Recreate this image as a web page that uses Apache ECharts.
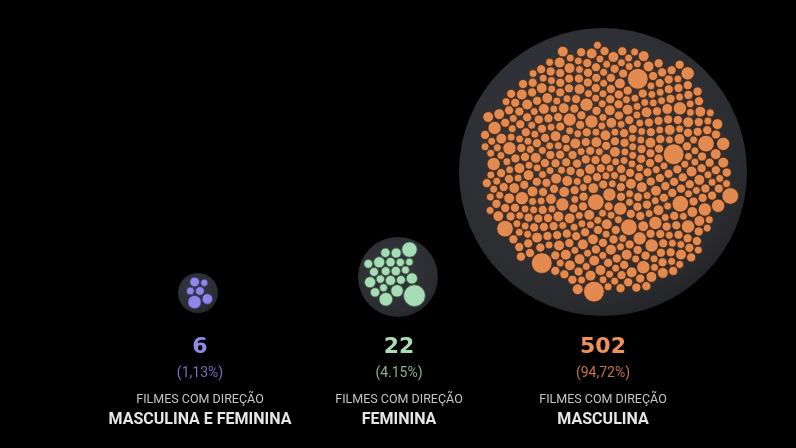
<!DOCTYPE html>
<html>
<head>
<meta charset="utf-8">
<script src="https://cdn.jsdelivr.net/npm/echarts@6/dist/echarts.min.js"></script>
<style>
  html, body { margin: 0; padding: 0; background: #000; }
  #chart { width: 796px; height: 448px; }
</style>
</head>
<body>
<div id="chart"></div>
<script>
// dados
var groupNames = ['MASCULINA E FEMININA', 'FEMININA', 'MASCULINA'];
var filmCounts = [6, 22, 502];
var filmShares = ['(1,13%)', '(4.15%)', '(94,72%)'];
var subtitle = 'FILMES COM DIREÇÃO';

// raio de cada filme
var mixedRadii = [4.2, 4.7, 5.2, 7.2, 3.9, 5.7];
var femaleRadii = [5.3, 5, 5.7, 5.3, 4.7, 5, 6.3, 4.7, 4.5, 6.3, 5, 5.7, 7, 4.5, 5.3, 4.3, 7.7, 6.3, 5, 8.7, 5.3, 12.3];
// filmes de direção masculina: classes de tamanho e quantos filmes em cada uma
var maleSizeClasses = [12.5, 10, 8, 6.5, 5.5, 4.8];
var maleClassCounts = [4, 6, 20, 80, 220, 172];

var colors = ['#8f86ea', '#a6ddb6', '#e28a4f'];
var strokeColors = ['#3b3470', '#3c5a45', '#4a2412'];
var textColors = ['#938ae8', '#a6ddb6', '#ee925a'];

// layout em pixels: centro do grupo, raio do disco, raio do grupo, deslocamento do disco
var layout = [
  { cx: 198, cy: 293, disc: 20, cluster: 17, pad: 0.7, dx: 0, dy: 0, flipX: false, flipY: true },
  { cx: 398, cy: 276, disc: 40, cluster: 37, pad: 0.6, dx: 0, dy: 1, flipX: true, flipY: false },
  { cx: 607, cy: 168, disc: 144, cluster: 135, pad: 0.35, dx: -4, dy: 4, flipX: false, flipY: false }
];
var labelX = [200, 399, 603];

function expand(sizes, counts) {
  var out = [];
  sizes.forEach(function (s, i) {
    for (var k = 0; k < counts[i]; k++) out.push(s);
  });
  // intercala os tamanhos
  var n = out.length, mixed = [];
  for (var k = 0; k < n; k++) mixed.push(out[(k * 97 + 300) % n]);
  return mixed;
}

// empacotamento (front-chain, como no d3.packSiblings)
function place(b, a, c) {
  var dx = b.x - a.x, dy = b.y - a.y, d2 = dx * dx + dy * dy, x, y, a2, b2;
  if (d2) {
    a2 = a.r + c.r; a2 *= a2;
    b2 = b.r + c.r; b2 *= b2;
    if (a2 > b2) {
      x = (d2 + b2 - a2) / (2 * d2);
      y = Math.sqrt(Math.max(0, b2 / d2 - x * x));
      c.x = b.x - x * dx - y * dy;
      c.y = b.y - x * dy + y * dx;
    } else {
      x = (d2 + a2 - b2) / (2 * d2);
      y = Math.sqrt(Math.max(0, a2 / d2 - x * x));
      c.x = a.x + x * dx - y * dy;
      c.y = a.y + x * dy + y * dx;
    }
  } else {
    c.x = a.x + c.r; c.y = a.y;
  }
}
function intersects(a, b) {
  var dr = a.r + b.r - 1e-6, dx = b.x - a.x, dy = b.y - a.y;
  return dr > 0 && dr * dr > dx * dx + dy * dy;
}
function score(node) {
  var a = node._, b = node.next._, ab = a.r + b.r,
    dx = (a.x * b.r + b.x * a.r) / ab, dy = (a.y * b.r + b.y * a.r) / ab;
  return dx * dx + dy * dy;
}
function Node(c) { this._ = c; this.next = null; this.previous = null; }

function reach(circles, x, y) {
  var m = 0;
  circles.forEach(function (p) { m = Math.max(m, Math.hypot(p.x - x, p.y - y) + p.r); });
  return m;
}

function packSiblings(circles) {
  var n = circles.length, a, b, c, i, j, k, sj, sk, aa, ca;
  a = circles[0]; a.x = 0; a.y = 0;
  if (n > 1) { b = circles[1]; a.x = -b.r; b.x = a.r; b.y = 0; }
  if (n > 2) {
    place(b, a, c = circles[2]);
    a = new Node(a); b = new Node(b); c = new Node(c);
    a.next = c.previous = b;
    b.next = a.previous = c;
    c.next = b.previous = a;
    pack: for (i = 3; i < n; ++i) {
      place(a._, b._, c = circles[i]); c = new Node(c);
      j = b.next; k = a.previous; sj = b._.r; sk = a._.r;
      do {
        if (sj <= sk) {
          if (intersects(j._, c._)) { b = j; a.next = b; b.previous = a; --i; continue pack; }
          sj += j._.r; j = j.next;
        } else {
          if (intersects(k._, c._)) { a = k; a.next = b; b.previous = a; --i; continue pack; }
          sk += k._.r; k = k.previous;
        }
      } while (j !== k.next);
      c.previous = a; c.next = b; a.next = b.previous = b = c;
      aa = score(a);
      while ((c = c.next) !== b) {
        if ((ca = score(c)) < aa) { a = c; aa = ca; }
      }
      b = a.next;
    }
  }
  // círculo envolvente: busca local a partir do centro da caixa
  var x0 = Infinity, x1 = -Infinity, y0 = Infinity, y1 = -Infinity;
  circles.forEach(function (p) {
    x0 = Math.min(x0, p.x - p.r); x1 = Math.max(x1, p.x + p.r);
    y0 = Math.min(y0, p.y - p.r); y1 = Math.max(y1, p.y + p.r);
  });
  var ex = (x0 + x1) / 2, ey = (y0 + y1) / 2, best = reach(circles, ex, ey);
  var s = (x1 - x0) / 8;
  while (s > 1e-3) {
    var moved = false;
    for (var d = 0; d < 16; d++) {
      var ang = d * Math.PI / 8, nx = ex + s * Math.cos(ang), ny = ey + s * Math.sin(ang);
      var v = reach(circles, nx, ny);
      if (v < best) { best = v; ex = nx; ey = ny; moved = true; }
    }
    if (!moved) s /= 2;
  }
  circles.forEach(function (p) { p.x -= ex; p.y -= ey; });
  return best;
}

var radiiSets = [mixedRadii, femaleRadii, expand(maleSizeClasses, maleClassCounts)];

var grids = [], xAxes = [], yAxes = [], series = [];
radiiSets.forEach(function (radii, gi) {
  var L = layout[gi];
  var circles = radii.map(function (r) { return { r: r + L.pad, size: r }; });
  var E = packSiblings(circles);
  var unit = E / L.cluster; // unidades de dado por pixel
  var half = (L.disc + 6) * unit;
  grids.push({ left: L.cx - L.disc - 6, top: L.cy - L.disc - 6, width: (L.disc + 6) * 2, height: (L.disc + 6) * 2 });
  xAxes.push({ gridIndex: gi, type: 'value', min: -half, max: half, show: false, inverse: L.flipX });
  yAxes.push({ gridIndex: gi, type: 'value', min: -half, max: half, show: false, inverse: !L.flipY });
  series.push({
    type: 'custom',
    xAxisIndex: gi, yAxisIndex: gi,
    silent: true,
    data: [[L.dx * unit * (L.flipX ? -1 : 1), L.dy * unit * (L.flipY ? -1 : 1), L.disc * unit]],
    renderItem: function (params, api) {
      var c = api.coord([api.value(0), api.value(1)]);
      var r = Math.abs(api.size([api.value(2), 0])[0]);
      return {
        type: 'circle',
        shape: { cx: c[0], cy: c[1], r: r },
        style: {
          fill: new echarts.graphic.RadialGradient(0.42, 0.38, 0.75, [
            { offset: 0, color: '#35383d' },
            { offset: 0.75, color: '#2a2c30' },
            { offset: 1, color: '#1a1b1e' }
          ])
        }
      };
    }
  });
  series.push({
    type: 'custom',
    xAxisIndex: gi, yAxisIndex: gi,
    silent: true,
    data: circles.map(function (p) { return [p.x, p.y, p.size]; }),
    renderItem: function (params, api) {
      var c = api.coord([api.value(0), api.value(1)]);
      var r = Math.abs(api.size([api.value(2), 0])[0]);
      return {
        type: 'circle',
        shape: { cx: c[0], cy: c[1], r: r },
        style: { fill: colors[gi], stroke: strokeColors[gi], lineWidth: 0.8 }
      };
    }
  });
});

var graphics = [];
groupNames.forEach(function (name, i) {
  graphics.push({ type: 'text', x: labelX[i], y: 347, style: { text: String(filmCounts[i]), fill: textColors[i], font: 'bold 22px "DejaVu Sans"', align: 'center', verticalAlign: 'middle' } });
  graphics.push({ type: 'text', x: labelX[i], y: 373, style: { text: filmShares[i], fill: textColors[i], font: '14px Roboto', align: 'center', verticalAlign: 'middle', opacity: 0.8 } });
  graphics.push({ type: 'text', x: labelX[i], y: 400, style: { text: subtitle, fill: '#c4c4c4', font: '12.5px Roboto', align: 'center', verticalAlign: 'middle' } });
  graphics.push({ type: 'text', x: labelX[i], y: 420, style: { text: name, fill: '#e6e6e6', font: 'bold 16px Roboto', align: 'center', verticalAlign: 'middle' } });
});

var chart = echarts.init(document.getElementById('chart'));
chart.setOption({
  backgroundColor: '#000',
  animation: false,
  grid: grids,
  xAxis: xAxes,
  yAxis: yAxes,
  series: series,
  graphic: graphics
});
</script>
</body>
</html>
